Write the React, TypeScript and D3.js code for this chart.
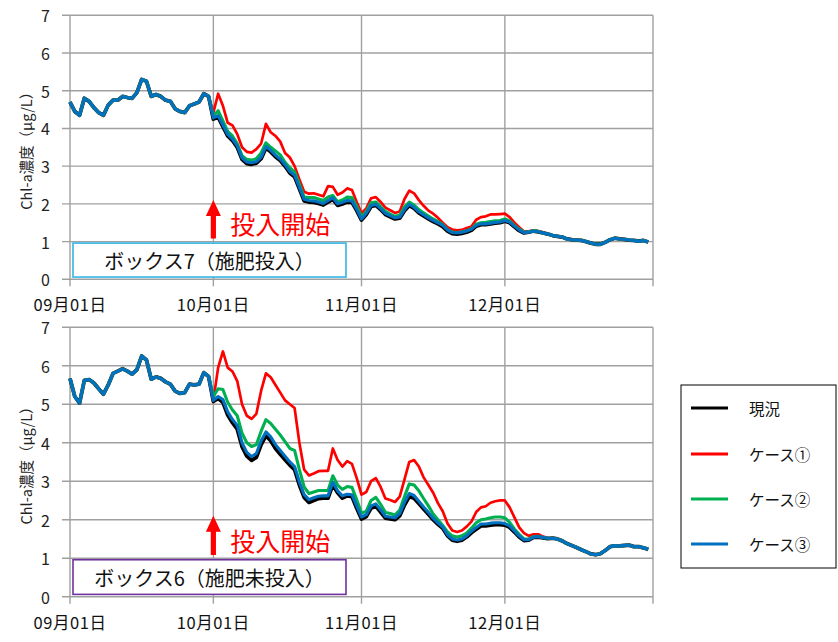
import * as d3 from 'd3';

const seriesNames = ['現況', 'ケース①', 'ケース②', 'ケース③'];
const seriesColors = ['#000000', '#ff0000', '#00b050', '#0070c0'];
const seriesWidths = [3.8, 2.7, 3.1, 3.1];
const monthLabels = ['09月01日', '10月01日', '11月01日', '12月01日'];
const yTickValues = [0, 1, 2, 3, 4, 5, 6, 7];

// ボックス7 (施肥投入) — 9月は全ケース共通
const box7Sep = [4.7, 4.45, 4.35, 4.8, 4.72, 4.55, 4.42, 4.35, 4.62, 4.75, 4.75, 4.85, 4.82, 4.8, 4.95, 5.3, 5.25, 4.85, 4.9, 4.85, 4.75, 4.72, 4.52, 4.45, 4.42, 4.6, 4.65, 4.7, 4.92, 4.85];
const box7DecTail = [1.16, 1.14, 1.12, 1.07, 1.05, 1.04, 1.03, 1.0, 0.96, 0.93, 0.93, 0.98, 1.05, 1.09, 1.07, 1.06, 1.04, 1.03, 1.01, 1.03, 0.99];

const box7Base = [
  4.25, 4.3, 4.05, 3.8, 3.68, 3.5, 3.18, 3.07, 3.05, 3.08, 3.2, 3.48, 3.38, 3.25, 3.15, 3.0, 2.82, 2.72, 2.4, 2.08, 2.05, 2.04, 2.01, 1.97, 2.05, 2.12, 1.96, 2.0, 2.05, 2.04, 1.82,
  1.57, 1.72, 1.93, 1.96, 1.85, 1.72, 1.66, 1.6, 1.62, 1.82, 1.96, 1.88, 1.76, 1.68, 1.6, 1.53, 1.47, 1.4, 1.28, 1.21, 1.2, 1.22, 1.25, 1.3, 1.41, 1.45, 1.45, 1.47, 1.49, 1.5,
  1.54, 1.5, 1.39, 1.29, 1.23, 1.25, 1.28, 1.26, 1.23, 1.2, ...box7DecTail,
];
const box7Case1 = [
  4.42, 4.92, 4.6, 4.15, 4.08, 3.85, 3.5, 3.38, 3.36, 3.45, 3.6, 4.12, 3.9, 3.8, 3.65, 3.35, 3.23, 3.0, 2.65, 2.32, 2.27, 2.28, 2.24, 2.2, 2.47, 2.45, 2.24, 2.3, 2.41, 2.37, 2.05,
  1.75, 1.88, 2.15, 2.18, 2.05, 1.9, 1.83, 1.76, 1.8, 2.13, 2.35, 2.28, 2.1, 1.95, 1.82, 1.74, 1.63, 1.5, 1.38, 1.32, 1.3, 1.31, 1.36, 1.4, 1.58, 1.65, 1.67, 1.72, 1.72, 1.73,
  1.74, 1.65, 1.5, 1.38, 1.27, 1.27, 1.3, 1.28, 1.24, 1.2, ...box7DecTail,
];
const box7Case2 = [
  4.33, 4.47, 4.2, 3.92, 3.8, 3.6, 3.28, 3.18, 3.16, 3.2, 3.35, 3.62, 3.5, 3.4, 3.3, 3.1, 2.96, 2.85, 2.52, 2.18, 2.17, 2.17, 2.13, 2.09, 2.18, 2.22, 2.06, 2.1, 2.18, 2.17, 1.93,
  1.66, 1.8, 2.03, 2.05, 1.93, 1.8, 1.73, 1.67, 1.7, 1.92, 2.05, 1.97, 1.85, 1.76, 1.68, 1.6, 1.53, 1.45, 1.32, 1.25, 1.24, 1.26, 1.29, 1.34, 1.46, 1.5, 1.51, 1.53, 1.55, 1.56,
  1.6, 1.55, 1.43, 1.33, 1.25, 1.26, 1.29, 1.27, 1.23, 1.2, ...box7DecTail,
];
const box7Case3 = [
  4.28, 4.34, 4.09, 3.84, 3.72, 3.54, 3.22, 3.11, 3.09, 3.12, 3.24, 3.52, 3.42, 3.29, 3.19, 3.04, 2.86, 2.76, 2.44, 2.12, 2.09, 2.08, 2.05, 2.01, 2.09, 2.16, 2.0, 2.04, 2.09, 2.08, 1.86,
  1.6, 1.75, 1.96, 1.99, 1.88, 1.75, 1.69, 1.63, 1.65, 1.85, 1.99, 1.91, 1.79, 1.71, 1.63, 1.56, 1.5, 1.43, 1.31, 1.24, 1.23, 1.25, 1.28, 1.33, 1.43, 1.47, 1.47, 1.49, 1.51, 1.52,
  1.56, 1.52, 1.41, 1.31, 1.24, 1.25, 1.28, 1.26, 1.23, 1.2, ...box7DecTail,
];

// ボックス6 (施肥未投入)
const box6Sep = [5.67, 5.2, 5.03, 5.62, 5.64, 5.55, 5.4, 5.26, 5.5, 5.8, 5.86, 5.92, 5.86, 5.78, 5.9, 6.25, 6.15, 5.65, 5.71, 5.67, 5.58, 5.52, 5.34, 5.28, 5.3, 5.52, 5.5, 5.52, 5.82, 5.72];
const box6DecTail = [1.52, 1.5, 1.45, 1.38, 1.33, 1.28, 1.22, 1.17, 1.11, 1.09, 1.12, 1.2, 1.3, 1.32, 1.32, 1.33, 1.34, 1.3, 1.3, 1.27, 1.23];

const box6Base = [
  5.07, 5.15, 5.05, 4.72, 4.52, 4.35, 3.9, 3.65, 3.54, 3.62, 3.95, 4.18, 4.05, 3.85, 3.7, 3.56, 3.42, 3.3, 2.9, 2.58, 2.45, 2.5, 2.55, 2.56, 2.56, 2.91, 2.7, 2.56, 2.62, 2.6, 2.3,
  2.02, 2.08, 2.3, 2.35, 2.2, 2.04, 2.02, 2.0, 2.1, 2.38, 2.6, 2.56, 2.42, 2.28, 2.14, 2.0, 1.88, 1.78, 1.58, 1.47, 1.44, 1.47, 1.55, 1.66, 1.75, 1.84, 1.84, 1.86, 1.87, 1.87,
  1.86, 1.8, 1.68, 1.55, 1.46, 1.47, 1.54, 1.55, 1.53, 1.51, ...box6DecTail,
];
const box6Case1 = [
  5.1, 5.95, 6.37, 5.95, 5.85, 5.6, 5.0, 4.7, 4.62, 4.75, 5.35, 5.8, 5.7, 5.5, 5.3, 5.1, 5.0, 4.9, 4.0, 3.3, 3.15, 3.2, 3.26, 3.27, 3.27, 3.85, 3.55, 3.38, 3.52, 3.45, 3.08,
  2.65, 2.72, 3.0, 3.08, 2.85, 2.55, 2.51, 2.46, 2.6, 3.05, 3.5, 3.55, 3.38, 3.1, 2.9, 2.7, 2.43, 2.22, 1.9, 1.72, 1.68, 1.72, 1.82, 1.95, 2.2, 2.32, 2.35, 2.44, 2.48, 2.5,
  2.5, 2.32, 2.06, 1.8, 1.65, 1.58, 1.62, 1.62, 1.56, 1.53, ...box6DecTail,
];
const box6Case2 = [
  5.2, 5.4, 5.38, 5.05, 4.85, 4.7, 4.25, 4.0, 3.9, 3.95, 4.3, 4.6, 4.5, 4.35, 4.2, 4.03, 3.85, 3.8, 3.3, 2.85, 2.68, 2.72, 2.76, 2.76, 2.76, 3.14, 2.9, 2.79, 2.86, 2.84, 2.52,
  2.17, 2.22, 2.5, 2.58, 2.4, 2.19, 2.16, 2.12, 2.25, 2.6, 2.93, 2.9, 2.75, 2.55, 2.36, 2.15, 2.0, 1.85, 1.68, 1.58, 1.55, 1.58, 1.65, 1.78, 1.92, 2.0, 2.02, 2.05, 2.07, 2.07,
  2.05, 1.93, 1.76, 1.62, 1.5, 1.5, 1.56, 1.57, 1.54, 1.52, ...box6DecTail,
];
const box6Case3 = [
  5.1, 5.2, 5.12, 4.8, 4.6, 4.45, 4.0, 3.75, 3.64, 3.72, 4.05, 4.28, 4.15, 3.95, 3.8, 3.65, 3.5, 3.38, 2.98, 2.65, 2.52, 2.57, 2.61, 2.62, 2.62, 2.97, 2.75, 2.62, 2.66, 2.65, 2.36,
  2.07, 2.13, 2.36, 2.41, 2.26, 2.09, 2.07, 2.05, 2.16, 2.45, 2.68, 2.63, 2.48, 2.33, 2.19, 2.04, 1.92, 1.81, 1.61, 1.5, 1.47, 1.5, 1.58, 1.7, 1.8, 1.89, 1.89, 1.91, 1.92, 1.92,
  1.9, 1.84, 1.71, 1.58, 1.48, 1.48, 1.55, 1.56, 1.54, 1.52, ...box6DecTail,
];

const FONT = "'Noto Sans CJK JP', 'Noto Sans', sans-serif";
const GRID = '#a0a0a0';

const startDate = new Date(Date.UTC(2015, 8, 1));
const endDate = new Date(Date.UTC(2016, 0, 1));
const x = d3.scaleUtc().domain([startDate, endDate]).range([70, 653]);
const dayDate = (i: number) => d3.utcDay.offset(startDate, i);

interface PanelProps {
  top: number;
  bottom: number;
  sep: number[];
  series: number[][];
  boxLabel: string;
  boxColor: string;
}

const Panel = ({ top, bottom, sep, series, boxLabel, boxColor }: PanelProps) => {
  const y = d3.scaleLinear().domain([0, 7]).range([bottom, top]);
  const months = d3.utcMonth.range(startDate, d3.utcDay.offset(endDate, 1));
  const line = d3
    .line<number>()
    .x((_, i) => x(dayDate(i)))
    .y((d) => y(d));

  const oct1 = x(months[1]);
  const arrowTip = y(2.1);
  const arrowBase = y(1.08);

  return (
    <g>
      {/* 横グリッド */}
      {yTickValues.map((v) => (
        <g key={v}>
          <line x1={62} x2={653} y1={y(v)} y2={y(v)} stroke={GRID} strokeWidth={1.4} />
          <text x={50} y={y(v)} textAnchor="end" dominantBaseline="central" fontSize={16} fill="#222">
            {v}
          </text>
        </g>
      ))}
      {/* 縦グリッド */}
      {months.map((m, i) => (
        <g key={i}>
          <line x1={x(m)} x2={x(m)} y1={top} y2={bottom + 7} stroke={GRID} strokeWidth={1.4} />
          {monthLabels[i] && (
            <text x={x(m)} y={bottom + 32} textAnchor="middle" fontSize={16.5} letterSpacing={0.6} fill="#111">
              {monthLabels[i]}
            </text>
          )}
        </g>
      ))}
      <text
        transform={`translate(25,${(top + bottom) / 2}) rotate(-90)`}
        textAnchor="middle"
        dominantBaseline="central"
        fontSize={14.5}
        fill="#222"
      >
        Chl-a濃度（μg/L）
      </text>

      {series.map((s, k) => (
        <path
          key={k}
          d={line([...sep, ...s]) || ''}
          fill="none"
          stroke={seriesColors[k]}
          strokeWidth={seriesWidths[k]}
          strokeLinejoin="round"
        />
      ))}

      <rect x={73} y={y(0.96)} width={273} height={y(0.06) - y(0.96)} fill="#fff" stroke={boxColor} strokeWidth={1.6} />
      <text x={209.5} y={(y(0.96) + y(0.06)) / 2} textAnchor="middle" dominantBaseline="central" fontSize={20} fill="#111">
        {boxLabel}
      </text>

      <path
        d={`M${oct1 - 7.5},${arrowTip + 16} L${oct1},${arrowTip} L${oct1 + 7.5},${arrowTip + 16} L${oct1 + 2.6},${arrowTip + 16} L${oct1 + 2.6},${arrowBase} L${oct1 - 2.6},${arrowBase} L${oct1 - 2.6},${arrowTip + 16} Z`}
        fill="#ff0000"
      />
      <text x={oct1 + 17} y={y(1.2)} fontSize={25} fill="#ff0000">
        投入開始
      </text>
    </g>
  );
};

const Legend = () => {
  const rows = [408, 454, 499, 544];
  return (
    <g>
      <rect x={681} y={385} width={155} height={183} fill="#fff" stroke="#000" strokeWidth={1} />
      {seriesNames.map((name, i) => (
        <g key={name}>
          <line x1={691} x2={728} y1={rows[i]} y2={rows[i]} stroke={seriesColors[i]} strokeWidth={3} />
          <text x={749} y={rows[i]} dominantBaseline="central" fontSize={15.5} fill="#111">
            {name}
          </text>
        </g>
      ))}
    </g>
  );
};

export default function App() {
  return (
    <svg
      width={838}
      height={642}
      style={{ position: 'absolute', left: 0, top: 0, background: '#fff', fontFamily: FONT }}
    >
      <Panel
        top={15.3}
        bottom={279.3}
        sep={box7Sep}
        series={[box7Base, box7Case1, box7Case2, box7Case3]}
        boxLabel="ボックス7（施肥投入）"
        boxColor="#33b5e5"
      />
      <Panel
        top={327.2}
        bottom={596.7}
        sep={box6Sep}
        series={[box6Base, box6Case1, box6Case2, box6Case3]}
        boxLabel="ボックス6（施肥未投入）"
        boxColor="#7030a0"
      />
      <Legend />
    </svg>
  );
}
